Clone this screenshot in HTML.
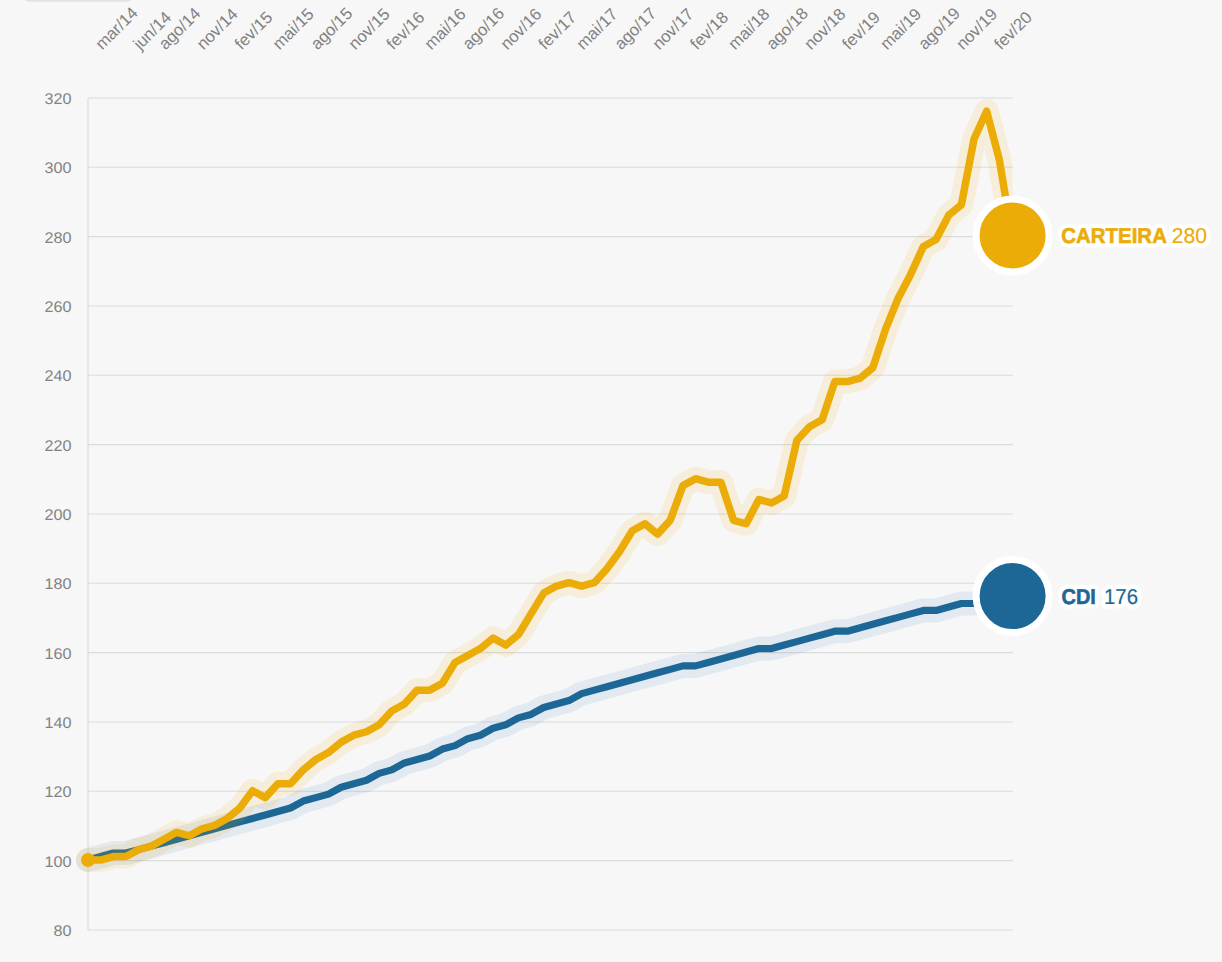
<!DOCTYPE html>
<html><head><meta charset="utf-8"><style>
html,body{margin:0;padding:0;background:#f7f7f7;width:1222px;height:962px;overflow:hidden}
svg{display:block;font-family:"Liberation Sans",sans-serif;text-rendering:geometricPrecision}
</style></head><body>
<svg width="1222" height="962" viewBox="0 0 1222 962">
<rect x="0" y="0" width="1222" height="962" fill="#f7f7f7"/>
<rect x="23.8" y="-10" width="109.2" height="11.8" rx="5" fill="#e4e4e4"/>

<line x1="88" y1="929.95" x2="1012.8" y2="929.95" stroke="#d9dcdb" stroke-width="1.15"/>
<text x="53.60" y="935.85" font-size="15.45" textLength="18.0" lengthAdjust="spacingAndGlyphs" fill="#828282">80</text>
<line x1="88" y1="860.62" x2="1012.8" y2="860.62" stroke="#d9dcdb" stroke-width="1.15"/>
<text x="44.60" y="866.52" font-size="15.45" textLength="27.0" lengthAdjust="spacingAndGlyphs" fill="#828282">100</text>
<line x1="88" y1="791.28" x2="1012.8" y2="791.28" stroke="#d9dcdb" stroke-width="1.15"/>
<text x="44.60" y="797.18" font-size="15.45" textLength="27.0" lengthAdjust="spacingAndGlyphs" fill="#828282">120</text>
<line x1="88" y1="721.95" x2="1012.8" y2="721.95" stroke="#d9dcdb" stroke-width="1.15"/>
<text x="44.60" y="727.85" font-size="15.45" textLength="27.0" lengthAdjust="spacingAndGlyphs" fill="#828282">140</text>
<line x1="88" y1="652.62" x2="1012.8" y2="652.62" stroke="#d9dcdb" stroke-width="1.15"/>
<text x="44.60" y="658.52" font-size="15.45" textLength="27.0" lengthAdjust="spacingAndGlyphs" fill="#828282">160</text>
<line x1="88" y1="583.28" x2="1012.8" y2="583.28" stroke="#d9dcdb" stroke-width="1.15"/>
<text x="44.60" y="589.18" font-size="15.45" textLength="27.0" lengthAdjust="spacingAndGlyphs" fill="#828282">180</text>
<line x1="88" y1="513.95" x2="1012.8" y2="513.95" stroke="#d9dcdb" stroke-width="1.15"/>
<text x="44.60" y="519.85" font-size="15.45" textLength="27.0" lengthAdjust="spacingAndGlyphs" fill="#828282">200</text>
<line x1="88" y1="444.62" x2="1012.8" y2="444.62" stroke="#d9dcdb" stroke-width="1.15"/>
<text x="44.60" y="450.52" font-size="15.45" textLength="27.0" lengthAdjust="spacingAndGlyphs" fill="#828282">220</text>
<line x1="88" y1="375.28" x2="1012.8" y2="375.28" stroke="#d9dcdb" stroke-width="1.15"/>
<text x="44.60" y="381.18" font-size="15.45" textLength="27.0" lengthAdjust="spacingAndGlyphs" fill="#828282">240</text>
<line x1="88" y1="305.95" x2="1012.8" y2="305.95" stroke="#d9dcdb" stroke-width="1.15"/>
<text x="44.60" y="311.85" font-size="15.45" textLength="27.0" lengthAdjust="spacingAndGlyphs" fill="#828282">260</text>
<line x1="88" y1="236.62" x2="1012.8" y2="236.62" stroke="#d9dcdb" stroke-width="1.15"/>
<text x="44.60" y="242.52" font-size="15.45" textLength="27.0" lengthAdjust="spacingAndGlyphs" fill="#828282">280</text>
<line x1="88" y1="167.28" x2="1012.8" y2="167.28" stroke="#d9dcdb" stroke-width="1.15"/>
<text x="44.60" y="173.18" font-size="15.45" textLength="27.0" lengthAdjust="spacingAndGlyphs" fill="#828282">300</text>
<line x1="88" y1="97.95" x2="1012.8" y2="97.95" stroke="#d9dcdb" stroke-width="1.15"/>
<text x="44.60" y="103.85" font-size="15.45" textLength="27.0" lengthAdjust="spacingAndGlyphs" fill="#828282">320</text>
<line x1="88" y1="97.95" x2="88" y2="929.95" stroke="#d9dcdb" stroke-width="1.15"/>
<text transform="translate(102.20,50.6) rotate(-45)" font-size="16.7" fill="#828282">mar/14</text>
<text transform="translate(140.17,50.6) rotate(-45)" font-size="16.7" fill="#828282">jun/14</text>
<text transform="translate(165.49,50.6) rotate(-45)" font-size="16.7" fill="#828282">ago/14</text>
<text transform="translate(203.46,50.6) rotate(-45)" font-size="16.7" fill="#828282">nov/14</text>
<text transform="translate(241.43,50.6) rotate(-45)" font-size="16.7" fill="#828282">fev/15</text>
<text transform="translate(279.41,50.6) rotate(-45)" font-size="16.7" fill="#828282">mai/15</text>
<text transform="translate(317.38,50.6) rotate(-45)" font-size="16.7" fill="#828282">ago/15</text>
<text transform="translate(355.35,50.6) rotate(-45)" font-size="16.7" fill="#828282">nov/15</text>
<text transform="translate(393.32,50.6) rotate(-45)" font-size="16.7" fill="#828282">fev/16</text>
<text transform="translate(431.30,50.6) rotate(-45)" font-size="16.7" fill="#828282">mai/16</text>
<text transform="translate(469.27,50.6) rotate(-45)" font-size="16.7" fill="#828282">ago/16</text>
<text transform="translate(507.24,50.6) rotate(-45)" font-size="16.7" fill="#828282">nov/16</text>
<text transform="translate(545.21,50.6) rotate(-45)" font-size="16.7" fill="#828282">fev/17</text>
<text transform="translate(583.19,50.6) rotate(-45)" font-size="16.7" fill="#828282">mai/17</text>
<text transform="translate(621.16,50.6) rotate(-45)" font-size="16.7" fill="#828282">ago/17</text>
<text transform="translate(659.13,50.6) rotate(-45)" font-size="16.7" fill="#828282">nov/17</text>
<text transform="translate(697.10,50.6) rotate(-45)" font-size="16.7" fill="#828282">fev/18</text>
<text transform="translate(735.08,50.6) rotate(-45)" font-size="16.7" fill="#828282">mai/18</text>
<text transform="translate(773.05,50.6) rotate(-45)" font-size="16.7" fill="#828282">ago/18</text>
<text transform="translate(811.02,50.6) rotate(-45)" font-size="16.7" fill="#828282">nov/18</text>
<text transform="translate(848.99,50.6) rotate(-45)" font-size="16.7" fill="#828282">fev/19</text>
<text transform="translate(886.97,50.6) rotate(-45)" font-size="16.7" fill="#828282">mai/19</text>
<text transform="translate(924.94,50.6) rotate(-45)" font-size="16.7" fill="#828282">ago/19</text>
<text transform="translate(962.91,50.6) rotate(-45)" font-size="16.7" fill="#828282">nov/19</text>
<text transform="translate(1000.88,50.6) rotate(-45)" font-size="16.7" fill="#828282">fev/20</text>
<defs><clipPath id="cp"><rect x="0" y="0" width="1012.6" height="962"/></clipPath></defs><g clip-path="url(#cp)">
<path d="M88.00,860.02 L100.66,856.55 L113.32,853.08 L125.97,853.08 L138.63,849.62 L151.29,846.15 L163.95,842.68 L176.60,839.22 L189.26,835.75 L201.92,832.28 L214.58,828.82 L227.23,825.35 L239.89,821.88 L252.55,818.42 L265.21,814.95 L277.86,811.48 L290.52,808.02 L303.18,801.08 L315.84,797.62 L328.49,794.15 L341.15,787.22 L353.81,783.75 L366.47,780.28 L379.12,773.35 L391.78,769.88 L404.44,762.95 L417.10,759.48 L429.75,756.02 L442.41,749.08 L455.07,745.62 L467.73,738.68 L480.38,735.22 L493.04,728.28 L505.70,724.82 L518.36,717.88 L531.01,714.42 L543.67,707.48 L556.33,704.02 L568.99,700.55 L581.64,693.62 L594.30,690.15 L606.96,686.68 L619.62,683.22 L632.27,679.75 L644.93,676.28 L657.59,672.82 L670.25,669.35 L682.90,665.88 L695.56,665.88 L708.22,662.42 L720.88,658.95 L733.53,655.48 L746.19,652.02 L758.85,648.55 L771.51,648.55 L784.16,645.08 L796.82,641.62 L809.48,638.15 L822.14,634.68 L834.79,631.22 L847.45,631.22 L860.11,627.75 L872.77,624.28 L885.42,620.82 L898.08,617.35 L910.74,613.88 L923.40,610.42 L936.05,610.42 L948.71,606.95 L961.37,603.48 L974.03,603.48 L986.68,600.02 L999.34,596.55 L1012.00,596.55" fill="none" stroke="#3a78b8" stroke-opacity="0.1" stroke-width="24" stroke-linejoin="round" stroke-linecap="round"/>
<path d="M88.00,860.02 L100.66,856.55 L113.32,853.08 L125.97,853.08 L138.63,849.62 L151.29,846.15 L163.95,842.68 L176.60,839.22 L189.26,835.75 L201.92,832.28 L214.58,828.82 L227.23,825.35 L239.89,821.88 L252.55,818.42 L265.21,814.95 L277.86,811.48 L290.52,808.02 L303.18,801.08 L315.84,797.62 L328.49,794.15 L341.15,787.22 L353.81,783.75 L366.47,780.28 L379.12,773.35 L391.78,769.88 L404.44,762.95 L417.10,759.48 L429.75,756.02 L442.41,749.08 L455.07,745.62 L467.73,738.68 L480.38,735.22 L493.04,728.28 L505.70,724.82 L518.36,717.88 L531.01,714.42 L543.67,707.48 L556.33,704.02 L568.99,700.55 L581.64,693.62 L594.30,690.15 L606.96,686.68 L619.62,683.22 L632.27,679.75 L644.93,676.28 L657.59,672.82 L670.25,669.35 L682.90,665.88 L695.56,665.88 L708.22,662.42 L720.88,658.95 L733.53,655.48 L746.19,652.02 L758.85,648.55 L771.51,648.55 L784.16,645.08 L796.82,641.62 L809.48,638.15 L822.14,634.68 L834.79,631.22 L847.45,631.22 L860.11,627.75 L872.77,624.28 L885.42,620.82 L898.08,617.35 L910.74,613.88 L923.40,610.42 L936.05,610.42 L948.71,606.95 L961.37,603.48 L974.03,603.48 L986.68,600.02 L999.34,596.55 L1012.00,596.55" fill="none" stroke="#1d6796" stroke-width="7.2" stroke-linejoin="round"/>
<path d="M88.00,860.02 L100.66,860.02 L113.32,856.55 L125.97,856.55 L138.63,849.62 L151.29,846.15 L163.95,839.22 L176.60,832.28 L189.26,835.75 L201.92,828.82 L214.58,825.35 L227.23,818.42 L239.89,808.02 L252.55,790.68 L265.21,797.62 L277.86,783.75 L290.52,783.75 L303.18,769.88 L315.84,759.48 L328.49,752.55 L341.15,742.15 L353.81,735.22 L366.47,731.75 L379.12,724.82 L391.78,710.95 L404.44,704.02 L417.10,690.15 L429.75,690.15 L442.41,683.22 L455.07,662.42 L467.73,655.48 L480.38,648.55 L493.04,638.15 L505.70,645.08 L518.36,634.68 L531.01,613.88 L543.67,593.08 L556.33,586.15 L568.99,582.68 L581.64,586.15 L594.30,582.68 L606.96,568.82 L619.62,551.48 L632.27,530.68 L644.93,523.75 L657.59,534.15 L670.25,520.28 L682.90,485.62 L695.56,478.68 L708.22,482.15 L720.88,482.15 L733.53,520.28 L746.19,523.75 L758.85,499.48 L771.51,502.95 L784.16,496.02 L796.82,440.55 L809.48,426.68 L822.14,419.75 L834.79,381.62 L847.45,381.62 L860.11,378.15 L872.77,367.75 L885.42,329.62 L898.08,298.42 L910.74,274.15 L923.40,246.42 L936.05,239.48 L948.71,215.22 L961.37,204.82 L974.03,138.95 L986.68,111.22 L999.34,159.75 L1012.00,236.02" fill="none" stroke="#ecac07" stroke-opacity="0.12" stroke-width="24" stroke-linejoin="round" stroke-linecap="round"/>
<path d="M88.00,860.02 L100.66,860.02 L113.32,856.55 L125.97,856.55 L138.63,849.62 L151.29,846.15 L163.95,839.22 L176.60,832.28 L189.26,835.75 L201.92,828.82 L214.58,825.35 L227.23,818.42 L239.89,808.02 L252.55,790.68 L265.21,797.62 L277.86,783.75 L290.52,783.75 L303.18,769.88 L315.84,759.48 L328.49,752.55 L341.15,742.15 L353.81,735.22 L366.47,731.75 L379.12,724.82 L391.78,710.95 L404.44,704.02 L417.10,690.15 L429.75,690.15 L442.41,683.22 L455.07,662.42 L467.73,655.48 L480.38,648.55 L493.04,638.15 L505.70,645.08 L518.36,634.68 L531.01,613.88 L543.67,593.08 L556.33,586.15 L568.99,582.68 L581.64,586.15 L594.30,582.68 L606.96,568.82 L619.62,551.48 L632.27,530.68 L644.93,523.75 L657.59,534.15 L670.25,520.28 L682.90,485.62 L695.56,478.68 L708.22,482.15 L720.88,482.15 L733.53,520.28 L746.19,523.75 L758.85,499.48 L771.51,502.95 L784.16,496.02 L796.82,440.55 L809.48,426.68 L822.14,419.75 L834.79,381.62 L847.45,381.62 L860.11,378.15 L872.77,367.75 L885.42,329.62 L898.08,298.42 L910.74,274.15 L923.40,246.42 L936.05,239.48 L948.71,215.22 L961.37,204.82 L974.03,138.95 L986.68,111.22 L999.34,159.75 L1012.00,236.02" fill="none" stroke="#ecac07" stroke-width="7.5" stroke-linejoin="round"/>
<circle cx="88" cy="860.02" r="7" fill="#ecac07"/>
</g>
<circle cx="1012.6" cy="235.52" r="36.5" fill="#ecac07" stroke="#fff" stroke-width="7"/>
<text x="1061.3" y="243.12" font-size="21.5" font-weight="bold" textLength="105.6" lengthAdjust="spacingAndGlyphs" fill="#fff" stroke="#fff" stroke-width="9" stroke-linejoin="round">CARTEIRA</text>
<text x="1171.7" y="243.12" font-size="21.5" font-weight="normal" textLength="35.2" lengthAdjust="spacingAndGlyphs" fill="#fff" stroke="#fff" stroke-width="9" stroke-linejoin="round">280</text>
<text x="1061.3" y="243.12" font-size="21.5" font-weight="bold" textLength="105.6" lengthAdjust="spacingAndGlyphs" fill="#ecac07" stroke="#ecac07" stroke-width="0.6">CARTEIRA</text>
<text x="1171.7" y="243.12" font-size="21.5" font-weight="normal" textLength="35.2" lengthAdjust="spacingAndGlyphs" fill="#ecac07" stroke="#ecac07" stroke-width="0.2">280</text>
<circle cx="1012.6" cy="596.05" r="36.5" fill="#1d6796" stroke="#fff" stroke-width="7"/>
<text x="1061.5" y="604.45" font-size="21.5" font-weight="bold" textLength="34.3" lengthAdjust="spacingAndGlyphs" fill="#fff" stroke="#fff" stroke-width="9" stroke-linejoin="round">CDI</text>
<text x="1104.0" y="604.45" font-size="21.5" font-weight="normal" textLength="34.0" lengthAdjust="spacingAndGlyphs" fill="#fff" stroke="#fff" stroke-width="9" stroke-linejoin="round">176</text>
<text x="1061.5" y="604.45" font-size="21.5" font-weight="bold" textLength="34.3" lengthAdjust="spacingAndGlyphs" fill="#1d6796" stroke="#1d6796" stroke-width="0.6">CDI</text>
<text x="1104.0" y="604.45" font-size="21.5" font-weight="normal" textLength="34.0" lengthAdjust="spacingAndGlyphs" fill="#1d6796" stroke="#1d6796" stroke-width="0.2">176</text>
</svg></body></html>
